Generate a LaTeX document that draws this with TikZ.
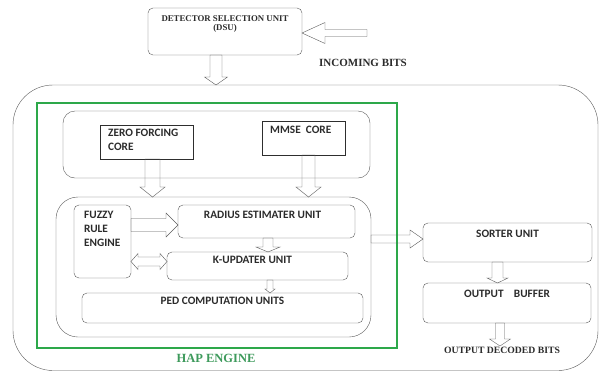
\documentclass[tikz,border=0pt]{standalone}
\usepackage{fontspec}
\setmainfont{Liberation Serif}
\newfontfamily\calfont{Carlito}
\usepackage{tikz}
\usetikzlibrary{calc,positioning}
\definecolor{Line}{HTML}{5A5A5A}
\definecolor{Core}{HTML}{2E2E2E}
\definecolor{Ink}{HTML}{2B2B2B}
\definecolor{HapGreen}{HTML}{2DA84A}
\definecolor{HapText}{HTML}{3E9A5C}

% hollow block arrows: start, end, body half width, head half width, head length
\newcommand{\hollowdown}[5]{%
  \draw[hollow] let \p1=#1, \p2=#2 in
    (\x1-#3pt,\y1) -- (\x1-#3pt,\y2+#5pt) -- (\x1-#4pt,\y2+#5pt) -- (\x1,\y2)
    -- (\x1+#4pt,\y2+#5pt) -- (\x1+#3pt,\y2+#5pt) -- (\x1+#3pt,\y1) -- cycle;}
\newcommand{\hollowright}[5]{%
  \draw[hollow] let \p1=#1, \p2=#2 in
    (\x1,\y1+#3pt) -- (\x2-#5pt,\y1+#3pt) -- (\x2-#5pt,\y1+#4pt) -- (\x2,\y1)
    -- (\x2-#5pt,\y1-#4pt) -- (\x2-#5pt,\y1-#3pt) -- (\x1,\y1-#3pt) -- cycle;}
\newcommand{\hollowleft}[5]{%
  \draw[hollow] let \p1=#1, \p2=#2 in
    (\x1,\y1+#3pt) -- (\x2+#5pt,\y1+#3pt) -- (\x2+#5pt,\y1+#4pt) -- (\x2,\y1)
    -- (\x2+#5pt,\y1-#4pt) -- (\x2+#5pt,\y1-#3pt) -- (\x1,\y1-#3pt) -- cycle;}
\newcommand{\hollowboth}[5]{%
  \draw[hollow] let \p1=#1, \p2=#2 in
    (\x1,\y1) -- (\x1+#5pt,\y1+#4pt) -- (\x1+#5pt,\y1+#3pt) -- (\x2-#5pt,\y1+#3pt)
    -- (\x2-#5pt,\y1+#4pt) -- (\x2,\y1) -- (\x2-#5pt,\y1-#4pt) -- (\x2-#5pt,\y1-#3pt)
    -- (\x1+#5pt,\y1-#3pt) -- (\x1+#5pt,\y1-#4pt) -- cycle;}

\begin{document}
\begin{tikzpicture}[x=1pt,y=-1pt,
  box/.style={draw=Line,thin,rounded corners=5pt,inner sep=0pt,outer sep=0pt},
  frame/.style={draw=Line,thin,inner sep=0pt,outer sep=0pt},
  core/.style={draw=Core,thin,inner sep=0pt,outer sep=0pt},
  unittext/.style={font=\calfont\bfseries\fontsize{11.3}{13.8}\selectfont,
    color=Ink,inner sep=0pt,align=left},
  serifcap/.style={font=\bfseries\fontsize{9.7}{10}\selectfont,color=Ink,inner sep=1pt},
  hollow/.style={draw=Line,thin,line join=miter}
]
\useasboundingbox (0,0) rectangle (603,373);

% Detector selection unit and its input
\node[box,minimum width=154,minimum height=47] (dsu) at (225,31.5) {};
\node[serifcap,align=center,font=\bfseries\fontsize{8.8}{9.5}\selectfont,
  below=6pt of dsu.north] (dsutext) {DETECTOR SELECTION UNIT\\(DSU)};
\coordinate (inbits) at (367,33);
\node[serifcap,font=\bfseries\fontsize{11}{11}\selectfont] (inlabel) at (363,63) {INCOMING BITS};
\hollowleft{(inbits)}{(dsu.east)}{3.5}{10.5}{23}

% HAP engine and its containers
\node[frame,rounded corners=40pt,minimum width=585,minimum height=285.5] (hap) at (305.5,227.75) {};
\node[draw=HapGreen,line width=2.6pt,inner sep=0pt,minimum width=360,minimum height=245] (engine) at (217,225.5) {};
\node[font=\bfseries\fontsize{12.5}{12.5}\selectfont,color=HapText] (hapname) at (216,358) {HAP ENGINE};
\hollowdown{([xshift=-9pt]dsu.south)}{(hap.north)}{6}{11.5}{8}

% Detector cores
\node[frame,rounded corners=12pt,minimum width=307,minimum height=67] (cores) at (216.5,144.5) {};
\node[core,minimum width=93,minimum height=34] (zf) at (146.5,142) {};
\node[unittext,below right=4pt and 8pt of zf.north west] (zftext) {ZERO FORCING\\CORE};
\node[core,minimum width=83,minimum height=34] (mmse) at (303.5,138) {};
\node[unittext,below right=5pt and 8pt of mmse.north west] (mmsetext) {MMSE\ \ CORE};

% Sphere decoding units
\node[frame,rounded corners=22pt,minimum width=315,minimum height=140] (lower) at (213.5,267) {};
\node[box,minimum width=57,minimum height=73] (fuzzy) at (102.5,241.5) {};
\node[unittext,below right=6pt and 10pt of fuzzy.north west] (fuzzytext) {FUZZY\\RULE\\ENGINE};
\node[box,minimum width=177,minimum height=33] (radius) at (266.5,221.5) {};
\node[unittext,below=6pt of radius.north,xshift=-4pt] (radiustext) {RADIUS ESTIMATER UNIT};
\node[box,minimum width=181,minimum height=28] (kupd) at (257.5,266) {};
\node[unittext,below=4pt of kupd.north,xshift=-5pt] (kupdtext) {K-UPDATER UNIT};
\node[box,minimum width=281,minimum height=30] (ped) at (222.5,308) {};
\node[unittext,below=4pt of ped.north] (pedtext) {PED COMPUTATION UNITS};

\hollowdown{([xshift=6pt]zf.south)}{(lower.north)}{7.5}{12.5}{10}
\hollowdown{([xshift=5pt]mmse.south)}{(lower.north)}{6.5}{12.5}{10}
\hollowright{($(fuzzy.east |- radius.west)+(0,3.5)$)}{(radius.west)}{6.5}{12}{12}
\hollowboth{($(fuzzy.east |- kupd.west)+(0,-4.5)$)}{(kupd.west)}{4.5}{8}{7}
\hollowdown{([xshift=1.5pt]radius.south)}{(kupd.north)}{5}{12}{5}
\hollowdown{([xshift=12.5pt]kupd.south)}{(ped.north)}{3}{5}{4}

% Sorting and output
\node[box,minimum width=169,minimum height=39] (sorter) at (507.5,242.5) {};
\node[unittext,below=7pt of sorter.north] (sortertext) {SORTER UNIT};
\node[box,minimum width=168,minimum height=40] (buffer) at (507,303) {};
\node[unittext,below=7pt of buffer.north] (buffertext) {OUTPUT\ \ \ \ BUFFER};
\node[serifcap,anchor=north] (decoded) at (502,346) {OUTPUT DECODED BITS};

\hollowright{($(lower.east |- sorter.west)+(0,-3.5)$)}{(sorter.west)}{4}{9}{13}
\hollowdown{([xshift=-10pt]sorter.south)}{(buffer.north)}{5.5}{10.5}{5}
\hollowdown{([xshift=-7pt]buffer.south)}{(decoded.north)}{4.5}{10.5}{7}
\end{tikzpicture}
\end{document}
